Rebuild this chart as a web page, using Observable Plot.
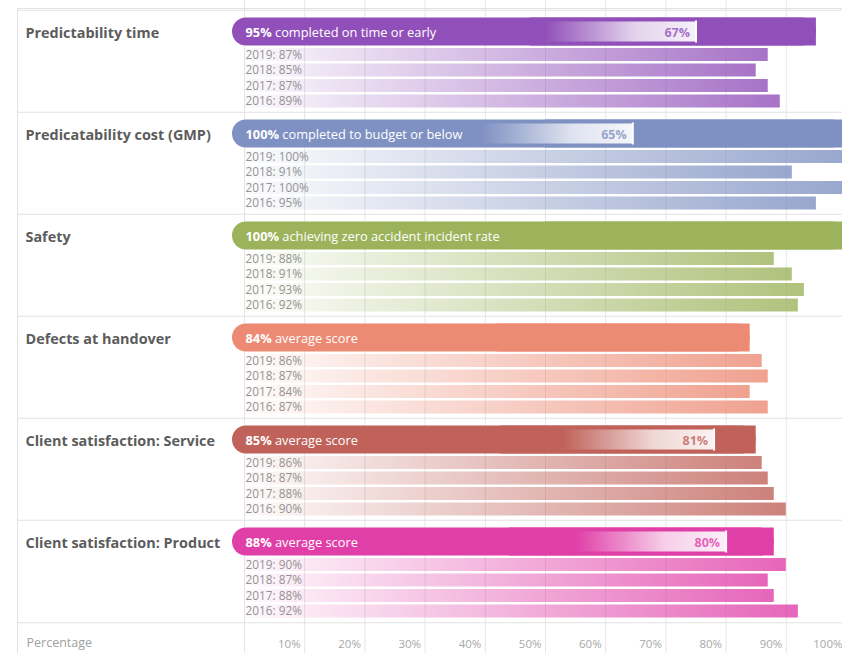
<!DOCTYPE html>
<html><head><meta charset="utf-8">
<script src="https://cdn.jsdelivr.net/npm/d3@7"></script>
<script src="https://cdn.jsdelivr.net/npm/@observablehq/plot@0.6"></script>
<style>html,body{margin:0;padding:0;background:#fff;overflow:hidden}</style>
</head><body><div id="chart"></div>
<script>
// ---- data ----
const categories = ["Predictability time", "Predicatability cost (GMP)", "Safety", "Defects at handover", "Client satisfaction: Service", "Client satisfaction: Product"];
const headlineValues = [95, 100, 100, 84, 85, 88];
const headlineTexts = ["completed on time or early", "completed to budget or below", "achieving zero accident incident rate", "average score", "average score", "average score"];
const years = ["2019", "2018", "2017", "2016"];
const values2019 = [87, 100, 88, 86, 86, 90];
const values2018 = [85, 91, 91, 87, 87, 87];
const values2017 = [87, 100, 93, 84, 88, 88];
const values2016 = [89, 95, 92, 87, 90, 92];
const benchmarkValues = [67, 65, null, null, 81, 80];
const benchmarkPositions = [75, 64.5, null, null, 78, 80];
const colors = ["#9150b9", "#7f91c2", "#9cb35c", "#ec8a74", "#c0625a", "#e03fa8"];
const gridValues = [0, 10, 20, 30, 40, 50, 60, 70, 80, 90, 100];
const tickValues = [10, 20, 30, 40, 50, 60, 70, 80, 90, 100];
const axisTitle = "Percentage";

// ---- derived tables ----
const rows = categories.map((c, i) => ({category: c, value: headlineValues[i], text: headlineTexts[i], color: colors[i], idx: i}));
const yearSeries = [values2019, values2018, values2017, values2016];
const yearRows = years.map((yr, k) => categories.map((c, i) => ({category: c, year: yr, value: yearSeries[k][i], idx: i})));
const bench = rows.filter((d, i) => benchmarkValues[i] != null).map(d => ({...d, label: benchmarkValues[d.idx], pos: benchmarkPositions[d.idx]}));
const headline = d => `${d.value}% ${d.text}`;

// ---- layout (styles) ----
const ROW = 102.5;
const MAIN_TOP = 7.5, MAIN_BOTTOM = ROW - 36;
const textDy = -29;

const marks = [
  Plot.ruleX(gridValues, {stroke: "#e6e6e6", insetTop: -8, insetBottom: -30}),
  Plot.frame({stroke: "#e2e2e2", insetBottom: -30, insetRight: -3}),
  Plot.ruleY(categories, {dy: -ROW / 2, stroke: "#e2e2e2"}),
  Plot.ruleY(categories.slice(-1), {dy: ROW / 2, stroke: "#e2e2e2"}),
  Plot.text(rows, {y: "category", text: "category", frameAnchor: "left", dx: 8, dy: -28.5, textAnchor: "start", fontWeight: "bold", fontSize: 14.4, fill: "#5c5c5c"}),
  // main bars: rounded left cap + square right end
  Plot.barX(rows, {x1: 0, x2: "value", y: "category", fill: "color", insetLeft: -12, insetTop: MAIN_TOP, insetBottom: MAIN_BOTTOM, rx: 14}),
  Plot.barX(rows, {x1: d => d.value / 2, x2: "value", y: "category", fill: "color", insetTop: MAIN_TOP, insetBottom: MAIN_BOTTOM})
];
years.forEach((yr, k) => {
  marks.push(Plot.barX(yearRows[k], {x1: 0, x2: "value", y: "category", fill: d => `url(#yr${d.idx})`, insetTop: 38 + 15.5 * k, insetBottom: ROW - 51.5 - 15.5 * k}));
  marks.push(Plot.text(yearRows[k], {x: 0, y: "category", text: d => `${d.year}: ${d.value}%`, dx: 1, dy: -6.75 + 15.5 * k, textAnchor: "start", fontSize: 11.8, fill: "#939393"}));
});
marks.push(
  Plot.barX(bench, {x1: d => d.pos - 25, x2: "pos", y: "category", fill: () => "url(#bm)", insetTop: MAIN_TOP + 4, insetBottom: MAIN_BOTTOM + 4}),
  Plot.tickX(bench, {x: "pos", y: "category", stroke: "#ffffff", strokeWidth: 2, insetTop: MAIN_TOP + 3, insetBottom: MAIN_BOTTOM + 3}),
  Plot.text(bench, {x: "pos", y: "category", text: d => d.label + "%", textAnchor: "end", dx: -6, dy: textDy, fontWeight: "bold", fontSize: 12.5, fill: "color", fillOpacity: 0.8}),
  Plot.text(rows, {x: 0, y: "category", text: headline, dx: 1, dy: textDy, textAnchor: "start", fontSize: 12.8, fill: "#ffffff"}),
  Plot.axisX(tickValues, {tickFormat: d => d + "%", tickSize: 0, tickPadding: 16, textAnchor: "end", dx: -4, fontSize: 11.5, color: "#a8a8a8", label: null}),
  Plot.text([axisTitle], {frameAnchor: "bottom-left", dx: 9, dy: 23, textAnchor: "start", fontSize: 12.5, fill: "#a0a0a0"})
);

const svg = Plot.plot({
  width: 842,
  height: 653,
  marginLeft: 17,
  marginRight: 0,
  marginTop: 8,
  marginBottom: 30,
  style: {fontFamily: "'Open Sans', sans-serif", fontSize: "11px", background: "white", color: "#333"},
  x: {domain: [0, 100], range: [244, 846]},
  y: {domain: categories, range: [8, 623], padding: 0, axis: null},
  color: {type: "identity"},
  marks
});

// gradients
const defs = d3.select(svg).insert("defs", ":first-child");
colors.forEach((c, i) => {
  const g = defs.append("linearGradient").attr("id", `yr${i}`).attr("x1", 0).attr("x2", 1).attr("y1", 0).attr("y2", 0);
  g.append("stop").attr("offset", 0).attr("stop-color", c).attr("stop-opacity", 0.03);
  g.append("stop").attr("offset", 1).attr("stop-color", c).attr("stop-opacity", 0.8);
});
const bm = defs.append("linearGradient").attr("id", "bm").attr("x1", 0).attr("x2", 1).attr("y1", 0).attr("y2", 0);
bm.append("stop").attr("offset", 0).attr("stop-color", "#fff").attr("stop-opacity", 0);
bm.append("stop").attr("offset", 0.6).attr("stop-color", "#fff").attr("stop-opacity", 0.75);
bm.append("stop").attr("offset", 1).attr("stop-color", "#fff").attr("stop-opacity", 0.92);

// bold percentage inside headline labels
const headlineSet = new Set(rows.map(headline));
svg.querySelectorAll("text").forEach(el => {
  const t = el.textContent;
  if (!headlineSet.has(t)) return;
  const j = t.indexOf(" ");
  el.textContent = "";
  d3.select(el).append("tspan").attr("font-weight", "bold").text(t.slice(0, j));
  d3.select(el).append("tspan").text(t.slice(j));
});

document.getElementById("chart").appendChild(svg);
</script>
</body></html>
